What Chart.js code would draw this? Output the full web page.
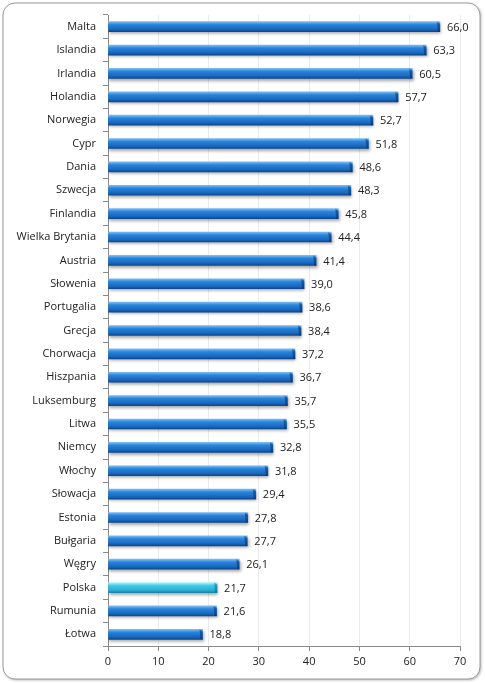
<!DOCTYPE html>
<html><head><meta charset="utf-8">
<script src="https://cdn.jsdelivr.net/npm/chart.js@4"></script>
<style>html,body{margin:0;padding:0;background:#fff}#wrap{width:485px;height:683px;position:relative}</style>
</head><body><div id="wrap"><canvas id="c" width="485" height="683"></canvas></div>
<script>
const categories = ["Malta","Islandia","Irlandia","Holandia","Norwegia","Cypr","Dania","Szwecja","Finlandia","Wielka Brytania","Austria","Słowenia","Portugalia","Grecja","Chorwacja","Hiszpania","Luksemburg","Litwa","Niemcy","Włochy","Słowacja","Estonia","Bułgaria","Węgry","Polska","Rumunia","Łotwa"];
const values = [66.0,63.3,60.5,57.7,52.7,51.8,48.6,48.3,45.8,44.4,41.4,39.0,38.6,38.4,37.2,36.7,35.7,35.5,32.8,31.8,29.4,27.8,27.7,26.1,21.7,21.6,18.8];
const highlight = "Polska";
const xTicks = [0,10,20,30,40,50,60,70];
const FONT = "'Open Sans', 'Noto Sans', sans-serif";
const BAR_T = 10;

function barFill(c){
  const chart=c.chart, ys=chart.scales.y;
  if(!ys || !chart.chartArea) return '#2a7fd8';
  const cy=ys.getPixelForValue(c.dataIndex);
  const top=cy-BAR_T/2, bot=cy+BAR_T/2;
  const g=chart.ctx.createLinearGradient(0,top,0,bot);
  if(categories[c.dataIndex]===highlight){
    g.addColorStop(0,'#b0f6ff'); g.addColorStop(0.3,'#40cbe8'); g.addColorStop(0.75,'#2aaed2'); g.addColorStop(1,'#1788b0');
  } else {
    g.addColorStop(0,'#7cbcf2'); g.addColorStop(0.3,'#2784dc'); g.addColorStop(0.75,'#1a68be'); g.addColorStop(1,'#0d4890');
  }
  return g;
}

const frame = {
  id:'frame',
  beforeDraw(chart){
    const ctx=chart.ctx; ctx.save();
    ctx.fillStyle='#fff'; ctx.fillRect(0,0,chart.width,chart.height);
    const x=3,y=3,w=477,h=676,r=12;
    ctx.shadowColor='rgba(0,0,0,0.35)'; ctx.shadowBlur=3; ctx.shadowOffsetX=1; ctx.shadowOffsetY=1;
    ctx.beginPath(); ctx.roundRect(x,y,w,h,r); ctx.fillStyle='#fff'; ctx.fill();
    ctx.shadowColor='transparent';
    ctx.strokeStyle='#9a9a9a'; ctx.lineWidth=1; ctx.stroke();
    ctx.restore();
  }
};
const barStyle = {
  id:'barStyle',
  beforeDatasetsDraw(chart){
    const ctx=chart.ctx;
    ctx.save();
    ctx.shadowColor='rgba(0,0,0,0.35)'; ctx.shadowBlur=3; ctx.shadowOffsetX=1; ctx.shadowOffsetY=2;
  },
  afterDatasetsDraw(chart){
    const ctx=chart.ctx; ctx.restore();
    const meta=chart.getDatasetMeta(0);
    ctx.save();
    // darker bevelled end cap
    meta.data.forEach((el,i)=>{
      const top=el.y-el.height/2, bot=el.y+el.height/2;
      ctx.beginPath();
      ctx.moveTo(el.x-3,top); ctx.lineTo(el.x,top+2); ctx.lineTo(el.x,bot); ctx.lineTo(el.x-2,bot); ctx.closePath();
      ctx.fillStyle = categories[i]===highlight ? 'rgba(10,90,120,0.45)' : 'rgba(5,30,80,0.45)';
      ctx.fill();
    });
    ctx.font='11px '+FONT; ctx.fillStyle='#222'; ctx.textBaseline='middle'; ctx.textAlign='left';
    meta.data.forEach((el,i)=>{
      ctx.fillText(values[i].toFixed(1).replace('.',','), el.x+7, el.y+1);
    });
    ctx.restore();
  }
};

new Chart(document.getElementById('c'),{
  type:'bar',
  data:{labels:categories,datasets:[{data:values,barThickness:BAR_T,borderWidth:0,backgroundColor:barFill}]},
  options:{
    indexAxis:'y',responsive:false,animation:false,devicePixelRatio:1,
    layout:{padding:{left:0,right:25,top:15,bottom:0}},
    plugins:{legend:{display:false},tooltip:{enabled:false}},
    scales:{
      x:{min:0,max:70,
        afterBuildTicks(s){s.ticks=xTicks.map(v=>({value:v}));},
        afterFit(s){s.height=37;},
        grid:{color:'#ebebeb',tickColor:'#8a8a8a',tickLength:5,drawOnChartArea:true},
        border:{color:'#8a8a8a'},
        ticks:{font:{family:FONT,size:11},color:'#222',padding:4}
      },
      y:{
        afterFit(s){s.width=108;},
        grid:{offset:true,drawOnChartArea:false,tickColor:'#8a8a8a',tickLength:5},
        border:{color:'#8a8a8a'},
        ticks:{font:{family:FONT,size:11},color:'#222',padding:7}
      }
    }
  },
  plugins:[frame,barStyle]
});
</script></body></html>
